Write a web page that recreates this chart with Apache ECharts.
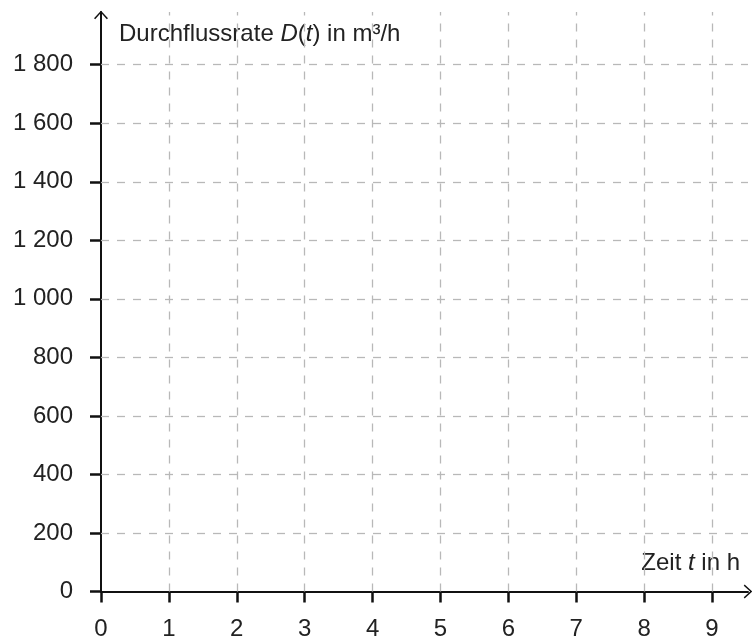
<!DOCTYPE html>
<html>
<head>
<meta charset="utf-8">
<script src="https://cdn.jsdelivr.net/npm/echarts@6/dist/echarts.min.js"></script>
<style>
html,body{margin:0;padding:0;background:#fff;}
#chart{width:752px;height:637px;}
</style>
</head>
<body>
<div id="chart"></div>
<script>
// Data: axis ticks and labels (empty chart grid)
var xTicks = [0, 1, 2, 3, 4, 5, 6, 7, 8, 9];
var xTickLabels = ['0', '1', '2', '3', '4', '5', '6', '7', '8', '9'];
var yTicks = [0, 200, 400, 600, 800, 1000, 1200, 1400, 1600, 1800];
var yTickLabels = ['0', '200', '400', '600', '800', '1 000', '1 200', '1 400', '1 600', '1 800'];
var xGridValues = [1, 2, 3, 4, 5, 6, 7, 8, 9];
var yGridValues = [200, 400, 600, 800, 1000, 1200, 1400, 1600, 1800];
var xMax = 9.53;
var yMax = 1980;

var FONT = '"Liberation Sans", Arial, Helvetica, sans-serif';
var TXT = '#222';
var AX = '#111';
var chevron = 'path://M7,0 L14,7.6 L12.8,8.5 L7,2.1 L1.2,8.5 L0,7.6 Z';

var chart = echarts.init(document.getElementById('chart'), null, {renderer: 'canvas'});

var gridMarks = [];
xGridValues.forEach(function (v) { gridMarks.push({xAxis: v}); });
yGridValues.forEach(function (v) { gridMarks.push({yAxis: v}); });

chart.setOption({
  animation: false,
  backgroundColor: '#fff',
  textStyle: {fontFamily: FONT},
  grid: {left: 101, right: 4, top: 12, bottom: 45.5, containLabel: false, outerBoundsMode: 'none'},
  xAxis: {
    type: 'value',
    min: 0,
    max: xMax,
    name: '{n|Zeit }{i|t}{n| in h}',
    nameLocation: 'end',
    nameGap: -8,
    nameTextStyle: {
      align: 'right',
      verticalAlign: 'middle',
      padding: [0, 0, 57, 0],
      rich: {
        n: {fontSize: 24, color: TXT, fontFamily: FONT},
        i: {fontSize: 24, color: TXT, fontFamily: FONT, fontStyle: 'italic'}
      }
    },
    axisLine: {
      show: true,
      onZero: false,
      lineStyle: {color: AX, width: 2},
      symbol: ['none', chevron],
      symbolSize: [14, 9],
      symbolOffset: [0, 0]
    },
    axisTick: {
      show: true,
      inside: false,
      length: 11,
      lineStyle: {color: AX, width: 2.5},
      customValues: xTicks
    },
    axisLabel: {
      show: true,
      margin: 26,
      fontSize: 24,
      color: TXT,
      fontFamily: FONT,
      customValues: xTicks,
      formatter: function (v) {
        var i = xTicks.indexOf(v);
        return i >= 0 ? xTickLabels[i] : '';
      }
    },
    splitLine: {show: false}
  },
  yAxis: {
    type: 'value',
    min: 0,
    max: yMax,
    name: '{n|Durchflussrate }{i|D}{n|(}{i|t}{n|) in m³/h}',
    nameLocation: 'end',
    nameGap: -22,
    nameTextStyle: {
      align: 'left',
      verticalAlign: 'middle',
      padding: [0, 0, 0, 18],
      rich: {
        n: {fontSize: 24, color: TXT, fontFamily: FONT},
        i: {fontSize: 24, color: TXT, fontFamily: FONT, fontStyle: 'italic'}
      }
    },
    axisLine: {
      show: true,
      onZero: false,
      lineStyle: {color: AX, width: 2},
      symbol: ['none', chevron],
      symbolSize: [14, 9],
      symbolOffset: [0, -3]
    },
    axisTick: {
      show: true,
      inside: false,
      length: 11,
      lineStyle: {color: AX, width: 2.5},
      customValues: yTicks
    },
    axisLabel: {
      show: true,
      margin: 28,
      fontSize: 24,
      color: TXT,
      fontFamily: FONT,
      customValues: yTicks,
      formatter: function (v) {
        var i = yTicks.indexOf(v);
        return i >= 0 ? yTickLabels[i] : '';
      }
    },
    splitLine: {show: false}
  },
  series: [{
    type: 'line',
    data: [],
    silent: true,
    markLine: {
      silent: true,
      symbol: ['none', 'none'],
      label: {show: false},
      lineStyle: {color: '#b8b8b8', width: 1.3, type: [8, 8]},
      emphasis: {disabled: true},
      data: gridMarks,
      animation: false
    },
    z: 1
  }]
});
</script>
</body>
</html>
